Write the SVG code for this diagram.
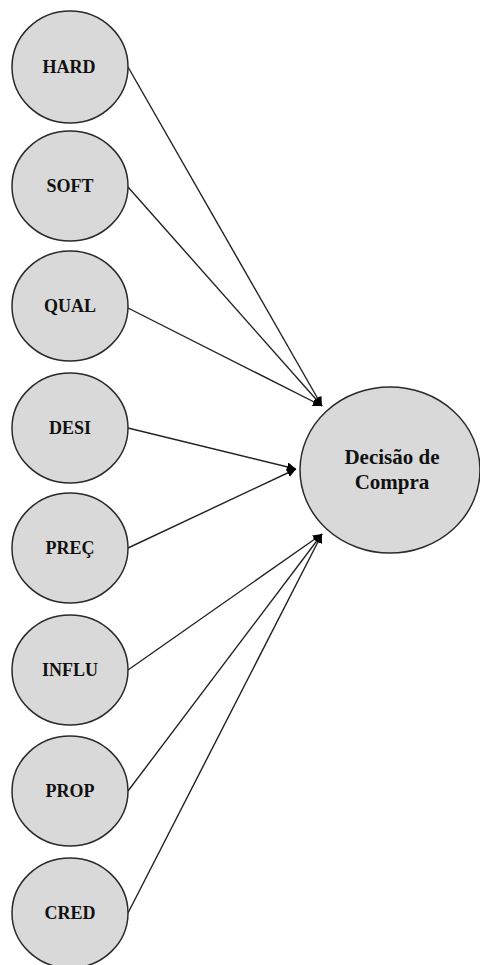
<svg xmlns="http://www.w3.org/2000/svg" width="480" height="965" viewBox="0 0 480 965">
<style>
.n ellipse{fill:#d9d9d9;stroke:#2a2a2a;stroke-width:1.5}
.n text{font-family:"Liberation Serif","Times New Roman",serif;font-weight:bold;font-size:18px;fill:#111;text-anchor:middle}
#decisao text{font-size:21px}
.c line{stroke:#222;stroke-width:1.4;marker-end:url(#ah)}
</style>
<defs>
<marker id="ah" viewBox="0 0 10 10" refX="10" refY="5" markerWidth="9" markerHeight="9" markerUnits="userSpaceOnUse" orient="auto">
<path d="M0,0 L10,5 L0,10 Z" fill="#000"/>
</marker>
</defs>
<rect width="480" height="965" fill="#fff"/>
<g id="connectors" class="c">
<line x1="128" y1="67" x2="322" y2="406"/>
<line x1="128" y1="187" x2="322" y2="406"/>
<line x1="128" y1="308" x2="322" y2="406"/>
<line x1="128" y1="428" x2="296" y2="469"/>
<line x1="128" y1="548" x2="296" y2="469"/>
<line x1="128" y1="670" x2="322" y2="534"/>
<line x1="128" y1="791" x2="322" y2="534"/>
<line x1="128" y1="913" x2="322" y2="534"/>
</g>
<g id="hard" class="n"><ellipse cx="70" cy="67" rx="58" ry="56"/><text x="69" y="73">HARD</text></g>
<g id="soft" class="n"><ellipse cx="70" cy="186" rx="58" ry="55"/><text x="70" y="192">SOFT</text></g>
<g id="qual" class="n"><ellipse cx="70" cy="306" rx="58" ry="55"/><text x="70" y="312">QUAL</text></g>
<g id="desi" class="n"><ellipse cx="70" cy="428" rx="58" ry="55"/><text x="70" y="434">DESI</text></g>
<g id="prec" class="n"><ellipse cx="70" cy="548" rx="58" ry="55"/><text x="70" y="554">PREÇ</text></g>
<g id="influ" class="n"><ellipse cx="70" cy="670" rx="58" ry="55"/><text x="70" y="676">INFLU</text></g>
<g id="prop" class="n"><ellipse cx="70" cy="791" rx="58" ry="55"/><text x="70" y="797">PROP</text></g>
<g id="cred" class="n"><ellipse cx="70" cy="913" rx="58" ry="55"/><text x="70" y="919">CRED</text></g>
<g id="decisao" class="n"><ellipse cx="390" cy="470" rx="90" ry="83"/><text x="392" y="464">Decisão de</text><text x="392" y="489">Compra</text></g>
</svg>
